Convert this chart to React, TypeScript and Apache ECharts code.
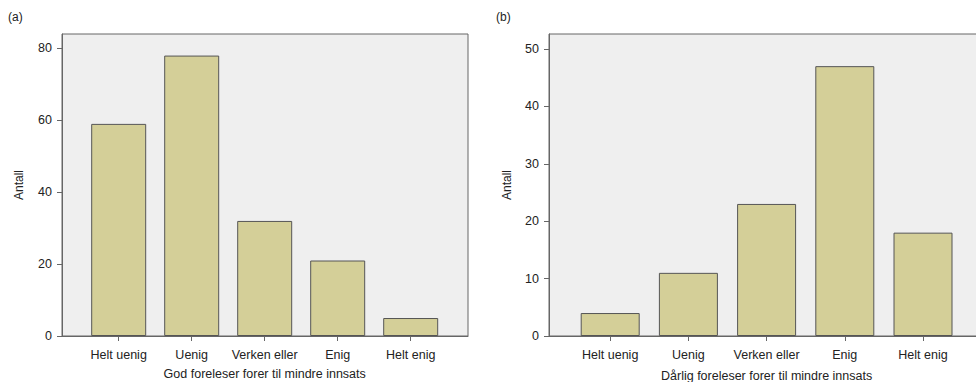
import React, { useEffect, useRef } from "react";
import * as echarts from "echarts";

const categories = ["Helt uenig", "Uenig", "Verken eller", "Enig", "Helt enig"];
const valuesA = [59, 78, 32, 21, 5];
const valuesB = [4, 11, 23, 47, 18];
const ticksA = [0, 20, 40, 60, 80];
const ticksB = [0, 10, 20, 30, 40, 50];
const titleA = "God foreleser forer til mindre innsats";
const titleB = "Dårlig foreleser forer til mindre innsats";
const yName = "Antall";

const FONT = "'Liberation Sans', Arial, Helvetica, sans-serif";
const TEXT = "#222";
const LINE = "#666";
const BAR = "#d4cf98";

export default function App() {
  const ref = useRef<HTMLDivElement>(null);
  useEffect(() => {
    if (!ref.current) return;
    const chart = echarts.init(ref.current, undefined, { renderer: "svg" });
    const frameY = (max: number, ticks: number[], gridIndex: number, nameGap: number) => ({
      type: "value",
      gridIndex,
      min: 0,
      max,
      name: yName,
      nameLocation: "middle",
      nameGap,
      nameTextStyle: { color: TEXT, fontSize: 12, fontFamily: FONT },
      axisLine: { show: true, lineStyle: { color: LINE, width: 1 } },
      axisTick: { show: true, length: 5, customValues: ticks, lineStyle: { color: LINE } },
      axisLabel: { customValues: ticks, color: TEXT, fontSize: 12.5, fontFamily: FONT, margin: 10 },
      splitLine: { show: false },
    });
    const frameX = (gridIndex: number) => ({
      type: "value",
      gridIndex,
      min: 0,
      max: 1,
      axisLine: { show: true, lineStyle: { color: LINE, width: 1 } },
      axisTick: { show: false },
      axisLabel: { show: false },
      splitLine: { show: false },
    });
    const barX = (gridIndex: number, name: string, nameGap: number) => ({
      type: "category",
      gridIndex,
      data: categories,
      name,
      nameLocation: "middle",
      nameGap,
      nameTextStyle: { color: TEXT, fontSize: 12.5, fontFamily: FONT },
      axisLine: { show: false },
      axisTick: { show: true, alignWithLabel: true, length: 5, lineStyle: { color: LINE } },
      axisLabel: { color: TEXT, fontSize: 12.5, fontFamily: FONT, margin: 12, interval: 0 },
    });
    const barY = (max: number, gridIndex: number) => ({
      type: "value",
      gridIndex,
      min: 0,
      max,
      show: false,
      splitLine: { show: false },
    });
    const g = { top: 34, height: 302, outerBoundsMode: "none", containLabel: false };
    chart.setOption({
      animation: false,
      grid: [
        { ...g, left: 62, width: 406, show: true, backgroundColor: "#efefef", borderColor: LINE, borderWidth: 1 },
        { ...g, left: 82.2, width: 365 },
        { ...g, left: 549, width: 440, show: true, backgroundColor: "#efefef", borderColor: LINE, borderWidth: 1 },
        { ...g, left: 571.1, width: 391 },
      ],
      xAxis: [frameX(0), barX(1, titleA, 31), frameX(2), barX(3, titleB, 33)],
      yAxis: [frameY(84, ticksA, 0, 37), barY(84, 1), frameY(52.6, ticksB, 2, 36), barY(52.6, 3)],
      series: [
        {
          type: "bar",
          xAxisIndex: 1,
          yAxisIndex: 1,
          data: valuesA,
          barWidth: 55,
          itemStyle: { color: BAR, borderColor: "#555", borderWidth: 1 },
        },
        {
          type: "bar",
          xAxisIndex: 3,
          yAxisIndex: 3,
          data: valuesB,
          barWidth: 59,
          itemStyle: { color: BAR, borderColor: "#555", borderWidth: 1 },
        },
      ],
      graphic: [
        { type: "text", left: 8, top: 11, style: { text: "(a)", fill: TEXT, fontSize: 12, fontFamily: FONT } },
        { type: "text", left: 496, top: 11, style: { text: "(b)", fill: TEXT, fontSize: 12, fontFamily: FONT } },
      ],
    });
    return () => chart.dispose();
  }, []);
  return <div ref={ref} style={{ width: 976, height: 382, position: "absolute", left: 0, top: 0 }} />;
}
